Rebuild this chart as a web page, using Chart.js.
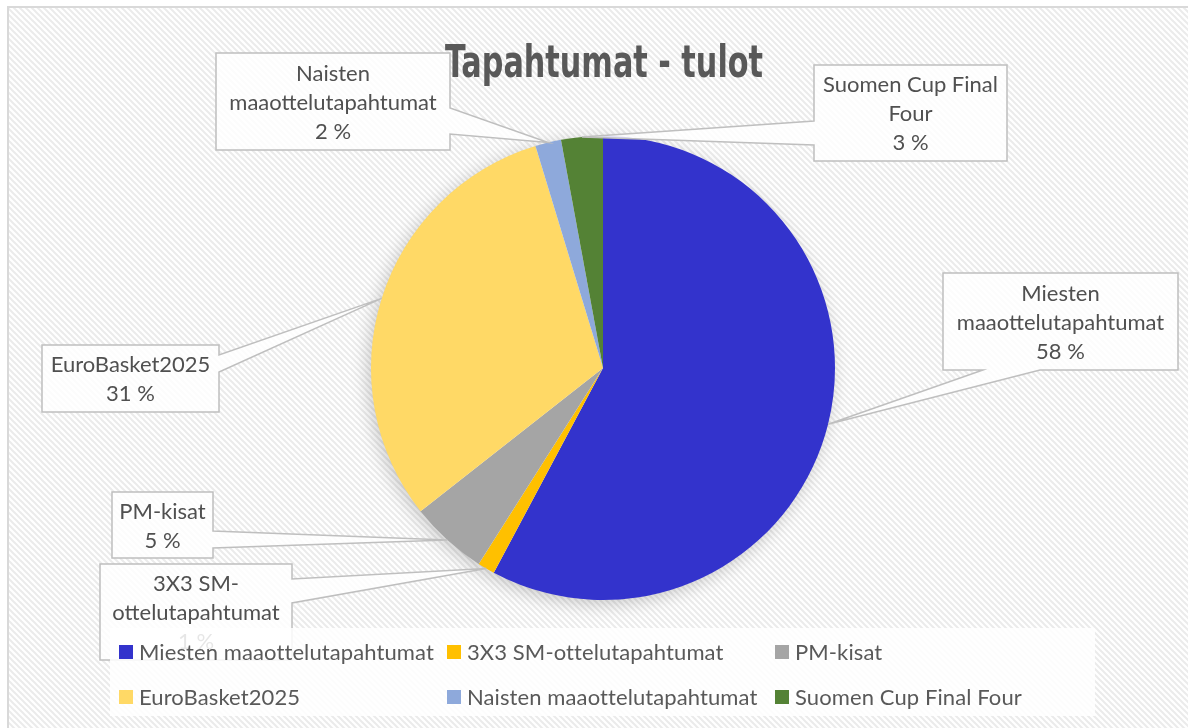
<!DOCTYPE html>
<html>
<head>
<meta charset="utf-8">
<script src="https://cdn.jsdelivr.net/npm/chart.js@4.4.1/dist/chart.umd.min.js"></script>
<style>
  html, body { margin: 0; padding: 0; background: #fff; }
  #wrap { width: 1188px; height: 728px; }
</style>
</head>
<body>
<div id="wrap"><canvas id="pie" width="1188" height="728"></canvas></div>
<script>
// chart data
const titleText = 'Tapahtumat - tulot';
const categories = [
    'Miesten maaottelutapahtumat',
    '3X3 SM-ottelutapahtumat',
    'PM-kisat',
    'EuroBasket2025',
    'Naisten maaottelutapahtumat',
    'Suomen Cup Final Four'
];
const shares = [57.8, 1.2, 5.4, 30.9, 1.8, 2.9];
// wrapped label lines, as in the data labels
const labelLines = [
    ['Miesten', 'maaottelutapahtumat'],
    ['3X3 SM-', 'ottelutapahtumat'],
    ['PM-kisat'],
    ['EuroBasket2025'],
    ['Naisten', 'maaottelutapahtumat'],
    ['Suomen Cup Final', 'Four']
];
const colors = ['#3333CC', '#FFC000', '#A5A5A5', '#FFD966', '#8EA9DB', '#548235'];

// callout boxes: rect + side of the pointer + where the pointer leaves the box
const callouts = [
    { x: 943, y: 273, w: 235, h: 97, side: 'bottom', a: 983, b: 1040 },
    { x: 100, y: 564, w: 192, h: 96, side: 'right', a: 579, b: 603 },
    { x: 112, y: 492, w: 101, h: 66, side: 'right', a: 531, b: 548 },
    { x: 42,  y: 345, w: 177, h: 67, side: 'right', a: 355, b: 372 },
    { x: 216, y: 53,  w: 234, h: 97, side: 'right', a: 108, b: 134 },
    { x: 814, y: 65,  w: 193, h: 96, side: 'left',  a: 121, b: 145 }
];

const textFont = '22px Lato, "Noto Sans", sans-serif';

function stripePattern(ctx) {
    const tile = document.createElement('canvas');
    tile.width = 6;
    tile.height = 6;
    const t = tile.getContext('2d');
    t.fillStyle = '#ffffff';
    t.fillRect(0, 0, 6, 6);
    t.strokeStyle = '#ebebeb';
    t.lineWidth = 2;
    t.beginPath();
    t.moveTo(-1, -1); t.lineTo(7, 7);
    t.moveTo(-4, 2); t.lineTo(4, 10);
    t.moveTo(2, -4); t.lineTo(10, 4);
    t.stroke();
    return ctx.createPattern(tile, 'repeat');
}

const backgroundPlugin = {
    id: 'stripedBackground',
    beforeDraw(chart) {
        const ctx = chart.ctx;
        ctx.save();
        ctx.fillStyle = '#ffffff';
        ctx.fillRect(0, 0, chart.width, chart.height);
        ctx.fillStyle = stripePattern(ctx);
        ctx.fillRect(9, 8, chart.width - 9, chart.height - 8);
        ctx.strokeStyle = '#d9d9d9';
        ctx.lineWidth = 2;
        ctx.beginPath();
        ctx.moveTo(8, chart.height);
        ctx.lineTo(8, 7);
        ctx.lineTo(chart.width, 7);
        ctx.stroke();
        ctx.restore();
    }
};

const shadowPlugin = {
    id: 'pieShadow',
    beforeDatasetsDraw(chart) {
        const arc = chart.getDatasetMeta(0).data[0];
        if (!arc) return;
        const ctx = chart.ctx;
        ctx.save();
        ctx.shadowColor = 'rgba(0,0,0,0.22)';
        ctx.shadowBlur = 18;
        ctx.shadowOffsetX = -3;
        ctx.shadowOffsetY = 4;
        ctx.fillStyle = '#ffffff';
        ctx.beginPath();
        ctx.arc(arc.x, arc.y, arc.outerRadius - 1, 0, Math.PI * 2);
        ctx.fill();
        ctx.restore();
    }
};

const calloutPlugin = {
    id: 'callouts',
    afterDatasetsDraw(chart) {
        const ctx = chart.ctx;
        const meta = chart.getDatasetMeta(0);
        const values = chart.data.datasets[0].data;
        const total = values.reduce((s, v) => s + v, 0);
        meta.data.forEach((arc, i) => {
            const c = callouts[i];
            const mid = (arc.startAngle + arc.endAngle) / 2;
            const tipX = arc.x + Math.cos(mid) * arc.outerRadius;
            const tipY = arc.y + Math.sin(mid) * arc.outerRadius;
            const x1 = c.x, y1 = c.y, x2 = c.x + c.w, y2 = c.y + c.h;

            ctx.save();
            ctx.beginPath();
            ctx.moveTo(x1, y1);
            if (c.side === 'top') { ctx.lineTo(c.a, y1); ctx.lineTo(tipX, tipY); ctx.lineTo(c.b, y1); }
            ctx.lineTo(x2, y1);
            if (c.side === 'right') { ctx.lineTo(x2, c.a); ctx.lineTo(tipX, tipY); ctx.lineTo(x2, c.b); }
            ctx.lineTo(x2, y2);
            if (c.side === 'bottom') { ctx.lineTo(c.b, y2); ctx.lineTo(tipX, tipY); ctx.lineTo(c.a, y2); }
            ctx.lineTo(x1, y2);
            if (c.side === 'left') { ctx.lineTo(x1, c.b); ctx.lineTo(tipX, tipY); ctx.lineTo(x1, c.a); }
            ctx.closePath();
            ctx.fillStyle = 'rgba(255,255,255,0.82)';
            ctx.fill();
            ctx.strokeStyle = '#bfbfbf';
            ctx.lineWidth = 1.5;
            ctx.lineJoin = 'miter';
            ctx.stroke();

            const lines = labelLines[i].concat([Math.round(values[i] / total * 100) + ' %']);
            ctx.fillStyle = '#505050';
            ctx.font = textFont;
            ctx.textAlign = 'center';
            ctx.textBaseline = 'middle';
            const cx = x1 + c.w / 2, cy = y1 + c.h / 2;
            lines.forEach((line, k) => {
                ctx.fillText(line, cx, cy + (k - (lines.length - 1) / 2) * 29 + 1);
            });
            ctx.restore();
        });
    }
};

const titleLegendPlugin = {
    id: 'titleLegend',
    afterDraw(chart) {
        const ctx = chart.ctx;
        ctx.save();
        // title, condensed bold
        ctx.font = 'bold 44px "DejaVu Sans Condensed", "DejaVu Sans", sans-serif';
        const w = ctx.measureText(titleText).width;
        const sx = 318 / w;
        ctx.translate(604, 77);
        ctx.scale(sx, 1);
        ctx.fillStyle = '#595959';
        ctx.textAlign = 'center';
        ctx.textBaseline = 'alphabetic';
        ctx.fillText(titleText, 0, 0);
        ctx.restore();

        // legend, 3 columns x 2 rows
        ctx.save();
        ctx.fillStyle = 'rgba(255,255,255,0.86)';
        ctx.fillRect(110, 628, 985, 88);
        ctx.font = textFont;
        ctx.letterSpacing = '0.1px';
        ctx.textAlign = 'left';
        ctx.textBaseline = 'middle';
        chart.data.labels.forEach((label, i) => {
            const col = i % 3, row = Math.floor(i / 3);
            const x = 119 + col * 328;
            const y = 652 + row * 45;
            ctx.fillStyle = colors[i];
            ctx.fillRect(x, y - 7, 14, 14);
            ctx.fillStyle = '#595959';
            ctx.fillText(label, x + 20, y + 1);
        });
        ctx.restore();
    }
};

new Chart(document.getElementById('pie'), {
    type: 'pie',
    data: {
        labels: categories,
        datasets: [{
            data: shares,
            backgroundColor: colors,
            borderWidth: 0
        }]
    },
    options: {
        responsive: false,
        animation: false,
        devicePixelRatio: 1,
        layout: { padding: { top: 136, bottom: 128, left: 18, right: 0 } },
        plugins: {
            legend: { display: false },
            title: { display: false },
            tooltip: { enabled: false }
        }
    },
    plugins: [backgroundPlugin, shadowPlugin, calloutPlugin, titleLegendPlugin]
});
</script>
</body>
</html>
